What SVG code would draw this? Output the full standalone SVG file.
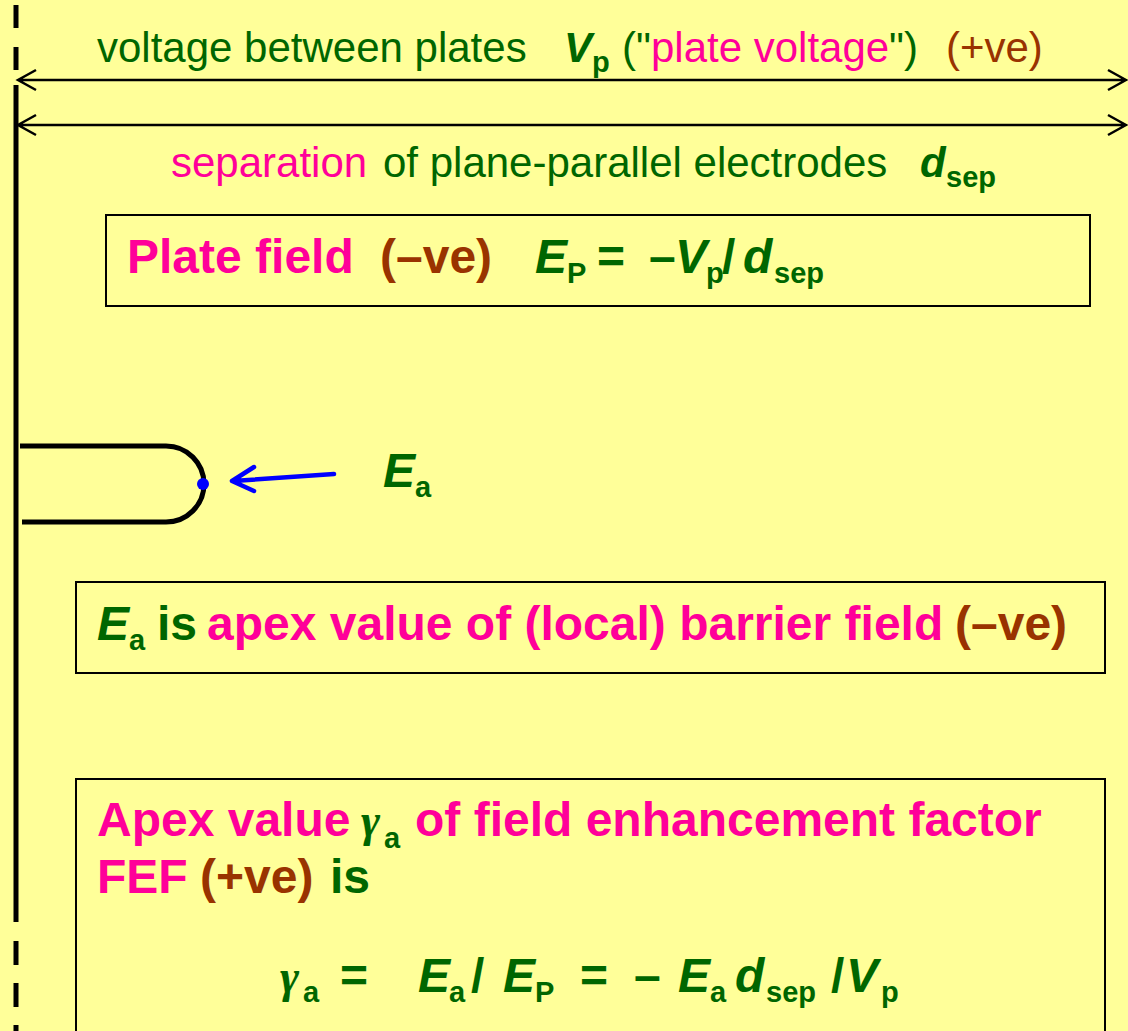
<svg xmlns="http://www.w3.org/2000/svg" width="1128" height="1031" viewBox="0 0 1128 1031">
<defs>
<style>
.t{font-family:"Liberation Sans",Arial,sans-serif}
.r{font-size:42px}
.b{font-size:48px;font-weight:bold}
.g{fill:#006600}
.m{fill:#FF0099}
.o{fill:#993300}
.i{font-style:italic;font-weight:bold}
.sub{font-size:29px;font-weight:bold}
.gam{font-family:"Liberation Serif","Times New Roman",serif;font-style:italic;font-weight:bold;font-size:46px;fill:#006600}
.box{fill:none;stroke:#000;stroke-width:2}
.dim{stroke:#000;stroke-width:2.5;fill:none}
</style>
</defs>
<rect width="1128" height="1031" fill="#FFFF99"/>

<g id="plate-left">
<line x1="16" y1="5" x2="16" y2="70" stroke="#000" stroke-width="5" stroke-dasharray="23 19"/>
<line x1="16" y1="85" x2="16" y2="922" stroke="#000" stroke-width="5"/>
<line x1="16" y1="941" x2="16" y2="1031" stroke="#000" stroke-width="5" stroke-dasharray="24 18"/>
</g>

<g id="connectors">
<path class="dim" d="M18,80 H1126 M36,70 L18,80 L36,90 M1108,70 L1126,80 L1108,90"/>
<path class="dim" d="M18,125 H1126 M36,115 L18,125 L36,135 M1108,115 L1126,125 L1108,135"/>
<path d="M334,474 L233,481 M254,467 L232,481 L254,491" stroke="#0000FF" stroke-width="4.5" fill="none" stroke-linecap="round" stroke-linejoin="round"/>
</g>

<g id="emitter">
<path d="M20,446 H166 A38,38 0 0 1 166,522 H22" fill="none" stroke="#000" stroke-width="5"/>
<circle cx="203" cy="484" r="6" fill="#0000FF"/>
</g>

<g id="label-vp">
<text class="t r g" y="62"><tspan x="97">voltage between plates</tspan><tspan x="564" class="i">V</tspan><tspan x="592" dy="10" class="sub">p</tspan><tspan x="622" dy="-10">("</tspan><tspan x="651" class="m">plate voltage</tspan><tspan x="889">")</tspan><tspan x="946" class="o">(+ve)</tspan></text>
</g>

<g id="label-dsep">
<text class="t r g" y="177"><tspan x="171" class="m">separation</tspan><tspan x="383">of plane-parallel electrodes</tspan><tspan x="920" class="i">d</tspan><tspan x="946" dy="10" class="sub">sep</tspan></text>
</g>

<g id="plate-field">
<rect class="box" x="106" y="215" width="984" height="91"/>
<text class="t b" y="273"><tspan x="127" class="m">Plate field</tspan><tspan x="380" class="o">(–ve)</tspan><tspan x="535" class="g i">E</tspan><tspan x="567" dy="10" class="g sub">P</tspan><tspan x="597" dy="-10" class="g">=</tspan><tspan x="649" class="g">–</tspan><tspan x="675" class="g i">V</tspan><tspan x="706" dy="10" class="g sub">p</tspan><tspan x="722" dy="-10" class="g">/</tspan><tspan x="743" class="g i">d</tspan><tspan x="774" dy="10" class="g sub">sep</tspan></text>
</g>

<g id="ea-label">
<text class="t b g" y="487"><tspan x="383" class="i">E</tspan><tspan x="415" dy="10" class="sub">a</tspan></text>
</g>

<g id="apex-field">
<rect class="box" x="76" y="582" width="1029" height="91"/>
<text class="t b" y="640"><tspan x="97" class="g i">E</tspan><tspan x="129" dy="10" class="g sub">a</tspan><tspan x="157" dy="-10" class="g">is</tspan><tspan x="207" class="m">apex value of (local) barrier field</tspan><tspan x="955" class="o">(–ve)</tspan></text>
</g>

<g id="fef">
<rect class="box" x="76" y="779" width="1029" height="300"/>
<text class="t b" y="836"><tspan x="97" class="m">Apex value</tspan><tspan x="361" class="gam">γ</tspan><tspan x="384" dy="12" class="g sub">a</tspan><tspan x="415" dy="-12" class="m">of field enhancement factor</tspan></text>
<text class="t b" y="893"><tspan x="97" class="m">FEF</tspan><tspan x="200" class="o">(+ve)</tspan><tspan x="330" class="g">is</tspan></text>
<text class="t b g" y="992"><tspan x="280" class="gam">γ</tspan><tspan x="303" dy="10" class="sub">a</tspan><tspan x="340" dy="-10">=</tspan><tspan x="418" class="i">E</tspan><tspan x="449" dy="10" class="sub">a</tspan><tspan x="471" dy="-10">/</tspan><tspan x="503" class="i">E</tspan><tspan x="535" dy="10" class="sub">P</tspan><tspan x="580" dy="-10">=</tspan><tspan x="634">–</tspan><tspan x="678" class="i">E</tspan><tspan x="710" dy="10" class="sub">a</tspan><tspan x="735" dy="-10" class="i">d</tspan><tspan x="766" dy="10" class="sub">sep</tspan><tspan x="831" dy="-10">/</tspan><tspan x="846" class="i">V</tspan><tspan x="881" dy="10" class="sub">p</tspan></text>
</g>
</svg>
